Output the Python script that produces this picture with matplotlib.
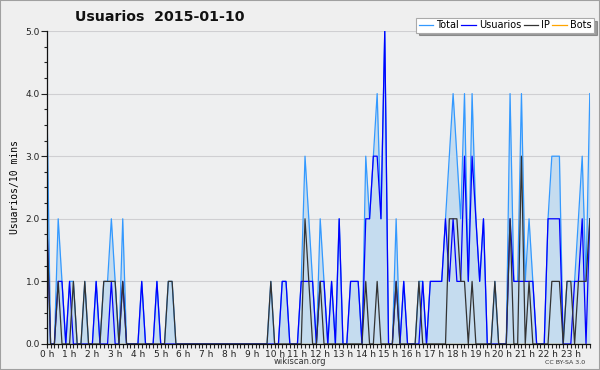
import matplotlib as mpl

mpl.use("Agg")
import matplotlib.pyplot as plt
from matplotlib.patches import Rectangle
from matplotlib.ticker import MultipleLocator, FormatStrFormatter

# one value per 10 minutes, 00:00 -> 23:50
total = [4, 0, 0, 2, 1, 0, 1, 1, 0, 0, 1, 0, 0, 1, 0, 1, 1, 2, 1, 0,
         2, 0, 0, 0, 0, 1, 0, 0, 0, 1, 0, 0, 1, 1, 0, 0, 0, 0, 0, 0,
         0, 0, 0, 0, 0, 0, 0, 0, 0, 0, 0, 0, 0, 0, 0, 0, 0, 0, 0, 1,
         0, 0, 1, 1, 0, 0, 0, 1, 3, 2, 1, 0, 2, 1, 0, 1, 0, 2, 0, 0,
         1, 1, 1, 0, 3, 2, 3, 4, 2, 5, 0, 0, 2, 0, 1, 0, 0, 0, 1, 1,
         0, 1, 1, 1, 1, 2, 3, 4, 3, 2, 4, 1, 4, 2, 1, 2, 0, 0, 1, 0,
         0, 0, 4, 1, 1, 4, 1, 2, 1, 0, 0, 0, 2, 3, 3, 3, 0, 1, 1, 1,
         2, 3, 1, 4]
usuarios = [2, 0, 0, 1, 1, 0, 1, 0, 0, 0, 0, 0, 0, 1, 0, 0, 0, 1, 0, 0,
            1, 0, 0, 0, 0, 1, 0, 0, 0, 1, 0, 0, 0, 0, 0, 0, 0, 0, 0, 0,
            0, 0, 0, 0, 0, 0, 0, 0, 0, 0, 0, 0, 0, 0, 0, 0, 0, 0, 0, 0,
            0, 0, 1, 1, 0, 0, 0, 1, 1, 1, 1, 0, 1, 1, 0, 1, 0, 2, 0, 0,
            1, 1, 1, 0, 2, 2, 3, 3, 2, 5, 0, 0, 1, 0, 1, 0, 0, 0, 0, 1,
            0, 1, 1, 1, 1, 2, 1, 2, 1, 1, 3, 1, 3, 2, 1, 2, 0, 0, 0, 0,
            0, 0, 2, 1, 1, 1, 1, 1, 1, 0, 0, 0, 2, 2, 2, 2, 0, 0, 0, 1,
            1, 2, 0, 2]
ip = [2, 0, 0, 1, 0, 0, 0, 1, 0, 0, 1, 0, 0, 0, 0, 1, 1, 1, 1, 0,
      1, 0, 0, 0, 0, 0, 0, 0, 0, 0, 0, 0, 1, 1, 0, 0, 0, 0, 0, 0,
      0, 0, 0, 0, 0, 0, 0, 0, 0, 0, 0, 0, 0, 0, 0, 0, 0, 0, 0, 1,
      0, 0, 0, 0, 0, 0, 0, 0, 2, 1, 0, 0, 1, 0, 0, 0, 0, 0, 0, 0,
      0, 0, 0, 0, 1, 0, 0, 1, 0, 0, 0, 0, 1, 0, 0, 0, 0, 0, 1, 0,
      0, 0, 0, 0, 0, 0, 2, 2, 2, 1, 1, 0, 1, 0, 0, 0, 0, 0, 1, 0,
      0, 0, 2, 0, 0, 3, 0, 1, 0, 0, 0, 0, 0, 1, 1, 1, 0, 1, 1, 0,
      1, 1, 1, 2]
bots = [0] * 144
hour_labels = [f"{h} h" for h in range(24)]

BG = "#efefef"
PLOT_BG = "#eeeff0"
GRID = "#cfcfd2"
C_TOTAL = "#3399ff"
C_FILL = "#c5dcef"
C_USER = "#0000ff"
C_IP = "#333333"
C_BOTS = "#ffa500"

fig = plt.figure(figsize=(6.0, 3.7), dpi=100, facecolor=BG)
ax = fig.add_axes([0.078, 0.0703, 0.905, 0.8459])
ax.set_facecolor(PLOT_BG)

x = list(range(len(total)))
ax.fill_between(x, total, 0, color=C_FILL, lw=0, zorder=1)
ax.plot(x, total, color=C_TOTAL, lw=0.9, label="Total", zorder=2)
ax.plot(x, usuarios, color=C_USER, lw=0.9, label="Usuarios", zorder=2.1)
ax.plot(x, ip, color=C_IP, lw=0.9, label="IP", zorder=2.2)
ax.plot(x, bots, color=C_BOTS, lw=0.9, label="Bots", zorder=1.5)

ax.set_xlim(0, 143)
ax.set_ylim(0, 5)
ax.yaxis.set_major_locator(MultipleLocator(1))
ax.yaxis.set_minor_locator(MultipleLocator(0.25))
ax.yaxis.set_major_formatter(FormatStrFormatter("%.1f"))
ax.set_xticks(range(0, 144, 6))
ax.set_xticklabels(hour_labels)
ax.set_xticks(range(0, 144), minor=True)
ax.tick_params(axis="y", which="major", length=4, width=0.8, labelsize=6.5, pad=1, colors="#222222")
ax.tick_params(axis="y", which="minor", length=2.5, width=0.8, colors="#222222")
ax.tick_params(axis="x", which="both", length=3, width=0.8, labelsize=6.5, pad=1, colors="#222222")
ax.grid(axis="y", which="major", color=GRID, lw=0.8)
ax.set_axisbelow(True)

for side in ("top", "right"):
    ax.spines[side].set_visible(False)
for side in ("left", "bottom"):
    ax.spines[side].set_color("#111111")
    ax.spines[side].set_linewidth(0.9)

ax.set_ylabel("Usuarios/10 mins", family="DejaVu Sans Mono", fontsize=7, labelpad=4)

fig.text(0.125, 0.953, "Usuarios  2015-01-10", fontsize=10.2, fontweight="bold",
         ha="left", va="center", color="#111111")
fig.text(0.5, 0.022, "wikiscan.org", fontsize=6, ha="center", va="center", color="#333333")
fig.text(0.975, 0.02, "CC BY-SA 3.0", fontsize=4.5, ha="right", va="center", color="#333333")

leg = ax.legend(loc="upper right", bbox_to_anchor=(0.99, 0.952), bbox_transform=fig.transFigure,
                ncol=4, fontsize=7, frameon=True, fancybox=False, shadow=True,
                handlelength=1.5, handletextpad=0.3, columnspacing=0.25,
                borderpad=0.25, borderaxespad=0)
leg.get_frame().set_edgecolor("#aaaaaa")
leg.get_frame().set_facecolor("#ffffff")
leg.get_frame().set_linewidth(0.8)

fig.patches.append(Rectangle((0, 0), 1, 1, transform=fig.transFigure, fill=False,
                             edgecolor="#a0a0a0", lw=1.5))

fig.savefig("out.png", dpi=100, facecolor=BG)
